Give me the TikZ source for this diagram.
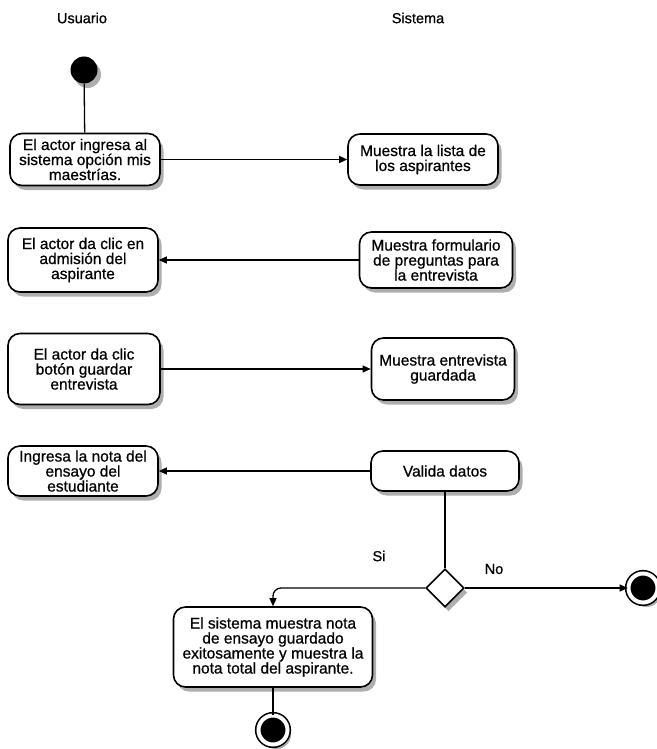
\documentclass[tikz,border=0pt]{standalone}
\usepackage{fontspec}
\setmainfont{Liberation Sans}[FakeBold=0.7]
\usetikzlibrary{arrows.meta,shapes.geometric,shadows}
\begin{document}
\begin{tikzpicture}[x=1pt,y=-1pt,
  font=\fontsize{15.5}{15}\selectfont,
  shade/.style={drop shadow={opacity=0.45,fill=black!70,shadow xshift=3.5pt,shadow yshift=-4.5pt}},
  action/.style={draw,line width=1.6pt,rounded corners=12pt,fill=white,align=center,
    inner sep=2pt,shade},
  flow/.style={line width=1.3pt,-{Triangle[length=8pt,width=7pt]}},
  link/.style={line width=1.3pt},
  lane/.style={font=\fontsize{14.5}{15}\selectfont},
  startnode/.style={circle,fill=black,minimum size=27pt,inner sep=0pt,shade},
  endnode/.style={circle,draw=black,fill=black,line width=1.6pt,double=white,
    double distance=4pt,minimum size=29pt,inner sep=0pt,shade},
  decision/.style={diamond,draw,line width=1.6pt,fill=white,minimum width=38pt,
    minimum height=38pt,inner sep=0pt,shade}]
\useasboundingbox (0,0) rectangle (656,749);

% swimlane headings
\node[lane] (usuario) at (82,18) {Usuario};
\node[lane] (sistema) at (418,18) {Sistema};

% initial state
\node[startnode] (start) at (84,70) {};

% actions
\node[action,minimum width=150pt,minimum height=52pt] (b1) at (85,159.5)
  {El actor ingresa al\\sistema opción mis\\maestrías.};
\node[action,minimum width=150pt,minimum height=51pt] (b2) at (423,159.5)
  {Muestra la lista de\\los aspirantes};
\node[action,minimum width=150pt,minimum height=64pt] (b3) at (83,260)
  {El actor da clic en\\admisión del\\aspirante};
\node[action,minimum width=153pt,minimum height=56pt] (b4) at (436,260)
  {Muestra formulario\\de preguntas para\\la entrevista};
\node[action,minimum width=152pt,minimum height=71pt] (b5) at (84,369)
  {El actor da clic\\botón guardar\\entrevista};
\node[action,minimum width=143pt,minimum height=62pt] (b6) at (443,369)
  {Muestra entrevista\\guardada};
\node[action,minimum width=150pt,minimum height=50pt] (b7) at (83,471)
  {Ingresa la nota del\\ensayo del\\estudiante};
\node[action,minimum width=148pt,minimum height=40pt] (b8) at (445,471)
  {Valida datos};
\node[decision] (d) at (445,588) {};
\node[action,minimum width=199pt,minimum height=80pt] (b9) at (273,647)
  {El sistema muestra nota\\de ensayo guardado\\exitosamente y muestra la\\nota total del aspirante.};

% final states
\node[endnode] (end1) at (643,588) {};
\node[endnode] (end2) at (273,730) {};

% guard labels
\node[lane] (si) at (379,556) {Si};
\node[lane] (no) at (494,569) {No};

% control flow
\draw[link] (start) -- (b1);
\draw[flow] (b1) -- (b2);
\draw[flow] (b4) -- (b3);
\draw[flow] (b5) -- (b6);
\draw[flow] (b8) -- (b7);
\draw[link] (b8) -- (d);
\draw[flow] (d.east) -- (end1);
\draw[flow,rounded corners=8pt] (d.west) -| (b9.north);
\draw[link] (b9) -- (end2);
\end{tikzpicture}
\end{document}
